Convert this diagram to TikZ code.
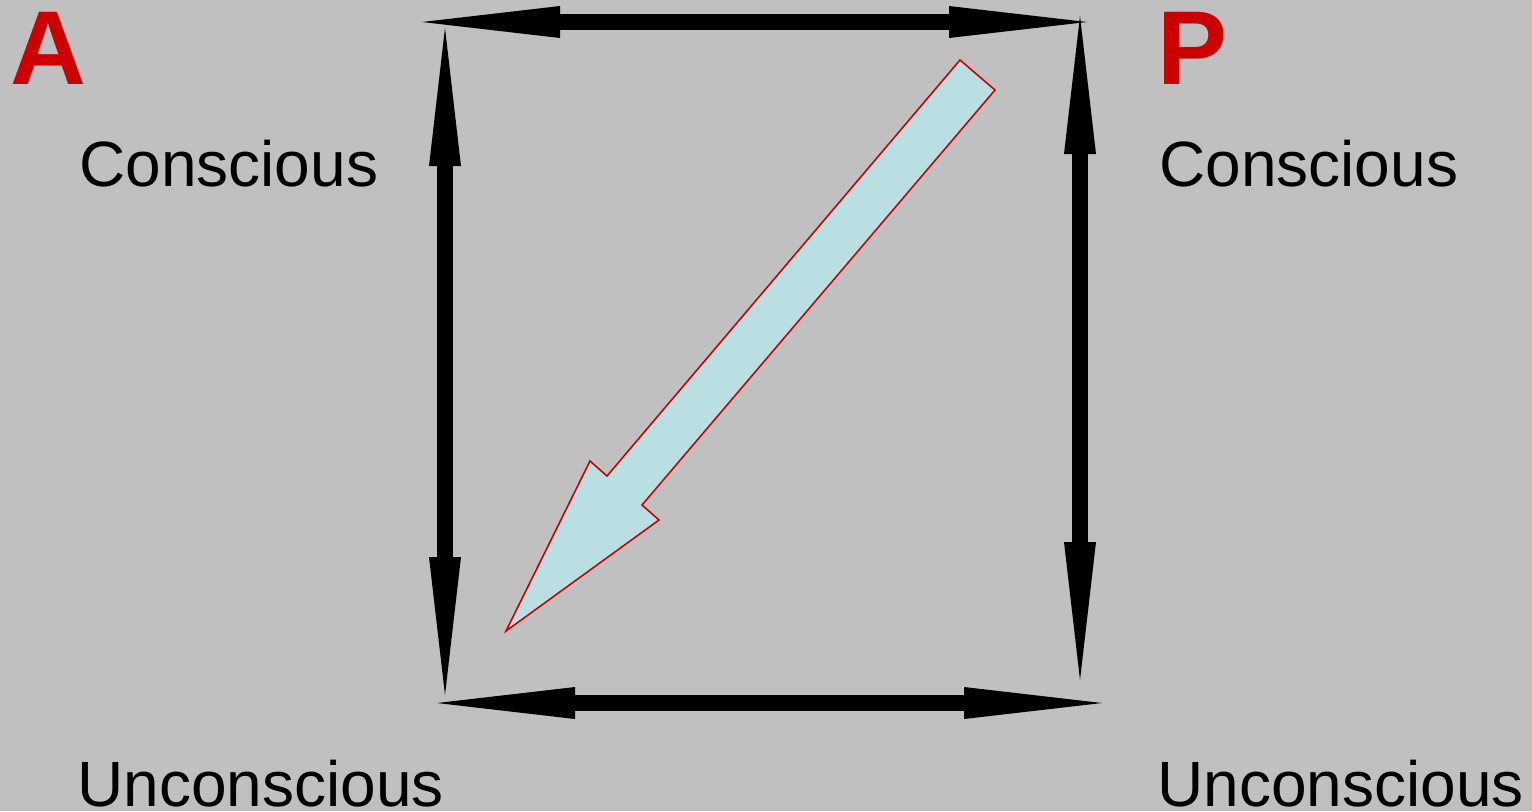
\documentclass[tikz,border=0pt]{standalone}
\usepackage{fontspec}
\setmainfont{Liberation Sans}
\usetikzlibrary{arrows.meta}
\definecolor{bggray}{HTML}{C0C0C0}
\definecolor{markred}{HTML}{CC0000}
\definecolor{paleblue}{HTML}{B9DFE3}

\begin{document}
\begin{tikzpicture}[
    x=0.5pt,y=-0.5pt,
    dbl/.style={line width=8pt,{Triangle[length=69pt,width=16pt,line width=0pt]}-{Triangle[length=69pt,width=16pt,line width=0pt]}},
    word/.style={anchor=base west,inner sep=0pt,font=\fontsize{32}{38}\selectfont},
    letter/.style={anchor=base west,inner sep=0pt,text=markred,font=\fontsize{52.5}{60}\selectfont\bfseries}
  ]
  \fill[bggray] (0,0) rectangle (1532,811);
  \useasboundingbox (0,0) rectangle (1532,811);

  % corner labels
  \node[letter] (a) at (10,84) {A};
  \node[letter] (p) at (1157,84) {P};
  \node[word] (aC) at (79,186) {Conscious};
  \node[word] (pC) at (1159,186) {Conscious};
  \node[word] (aU) at (77,806) {Unconscious};
  \node[word] (pU) at (1157,806) {Unconscious};

  % ends of the square of arrows
  \coordinate (topL) at (422,22);
  \coordinate (topR) at (1087,22);
  \coordinate (lftT) at (445,28);
  \coordinate (lftB) at (445,695);
  \coordinate (rgtT) at (1080,16);
  \coordinate (rgtB) at (1080,680);
  \coordinate (botL) at (437,703);
  \coordinate (botR) at (1102,703);
  \foreach \a/\b in {topL/topR,lftT/lftB,rgtT/rgtB,botL/botR}
    \draw[dbl] (\a) -- (\b);

  % diagonal arrow
  \draw[fill=paleblue,draw=markred,line width=0.8pt,line join=miter]
    (960,60) -- (607,476) -- (590,461) -- (506,631) -- (659,520)
    -- (642,505) -- (995,90) -- cycle;
\end{tikzpicture}
\end{document}
